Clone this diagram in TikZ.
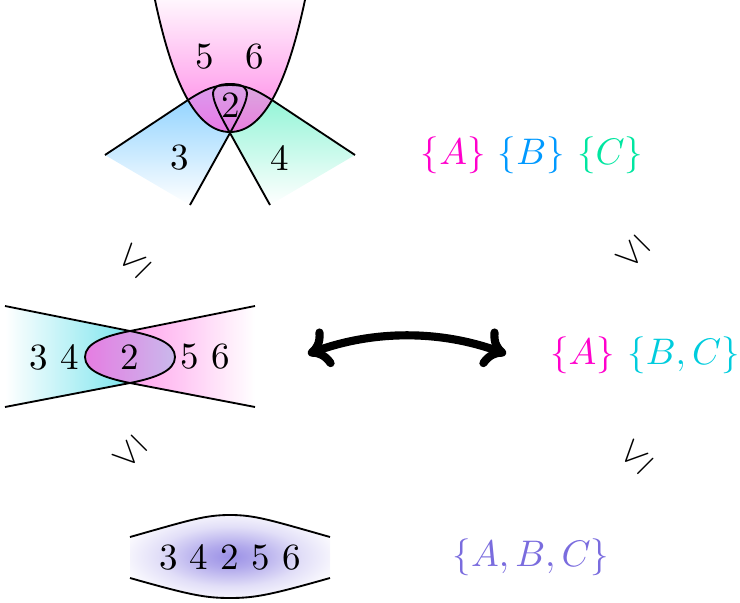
\documentclass[tikz,border=0pt]{standalone}
\usetikzlibrary{arrows.meta}
\definecolor{ca}{RGB}{255,0,204}
\definecolor{cb}{RGB}{0,153,255}
\definecolor{cc}{RGB}{0,230,160}
\definecolor{cbc}{RGB}{0,204,221}
\definecolor{cabc}{RGB}{122,108,222}
\pgfdeclareradialshading{abcrad}{\pgfpoint{0bp}{0bp}}{color(0bp)=(cabc!75); color(7bp)=(cabc!58); color(18bp)=(cabc!22); color(29bp)=(white); color(50bp)=(white)}
\begin{document}
\begin{tikzpicture}[x=0.27027pt,y=-0.27027pt,
  edge/.style={line width=0.5pt},
  num/.style={inner sep=0pt},
  rel/.style={inner sep=0pt},
  settext/.style={inner sep=0pt},
  bigarrow/.style={line width=2.2pt, line cap=round,
    {To[length=6pt,width=11pt,round]}-{To[length=6pt,width=11pt,round]}}]
\useasboundingbox (0,0) rectangle (740,603);

% ---------- top diagram ----------
\shade[top color=cb!48, bottom color=white]
  (105,155) -- (188,100) .. controls (205,89) and (215,84) .. (230,84)
  .. controls (255,84) and (250,97) .. (230,133) -- (190,205) -- cycle;
\shade[top color=cc!48, bottom color=white]
  (355,155) -- (272,100) .. controls (255,89) and (245,84) .. (230,84)
  .. controls (205,84) and (210,97) .. (230,133) -- (270,205) -- cycle;
\fill[cb!45, opacity=0.5]
  (230,84) .. controls (255,84) and (250,97) .. (230,133)
  .. controls (210,97) and (205,84) .. (230,84) -- cycle;
\shade[top color=ca!5, bottom color=ca!70, opacity=0.7]
  (155,0) .. controls (172,80) and (195,132) .. (230,132)
  .. controls (265,132) and (288,80) .. (305,0) -- cycle;

\draw[edge] (155,0) .. controls (172,80) and (195,132) .. (230,132)
  .. controls (265,132) and (288,80) .. (305,0);
\draw[edge] (105,155) -- (188,100) .. controls (205,89) and (215,85) .. (230,85)
  .. controls (245,85) and (255,89) .. (272,100) -- (355,155);
\draw[edge] (190,205) -- (230,133) .. controls (250,97) and (255,84) .. (230,84)
  .. controls (205,84) and (210,97) .. (230,133) -- (270,205);

\node[num] (n5) at (205,57) {5};
\node[num] (n6) at (255,57) {6};
\node[num] (n3) at (180,158) {3};
\node[num] (n4) at (280,158) {4};
\node[num] (n2) at (231,105) {2};

% ---------- middle diagram ----------
\shade[left color=white, right color=cbc!70]
  (5,306) -- (130,331) .. controls (155,336) and (175,343) .. (175,357)
  .. controls (175,371) and (155,378) .. (130,383) -- (5,407) -- cycle;
\shade[left color=ca!70, right color=white, opacity=0.7]
  (255,306) -- (130,331) .. controls (105,336) and (85,343) .. (85,357)
  .. controls (85,371) and (105,378) .. (130,383) -- (255,407) -- cycle;
\draw[edge] (5,306) -- (130,331) .. controls (155,336) and (175,343) .. (175,357)
  .. controls (175,371) and (155,378) .. (130,383) -- (5,407);
\draw[edge] (255,306) -- (130,331) .. controls (105,336) and (85,343) .. (85,357)
  .. controls (85,371) and (105,378) .. (130,383) -- (255,407);

\node[num] (n34) at (54,357) {3 4};
\node[num] (n2m) at (130,357) {2};
\node[num] (n56) at (205,357) {5 6};

% ---------- bottom diagram ----------
\shade[shading=abcrad]
  (130,537) .. controls (190,520) and (205,515) .. (230,515)
  .. controls (255,515) and (270,520) .. (330,537) -- (330,578)
  .. controls (270,595) and (255,598) .. (230,598)
  .. controls (205,598) and (190,595) .. (130,578) -- cycle;
\draw[edge] (130,537) .. controls (190,520) and (205,515) .. (230,515)
  .. controls (255,515) and (270,520) .. (330,537);
\draw[edge] (130,578) .. controls (190,595) and (205,598) .. (230,598)
  .. controls (255,598) and (270,595) .. (330,578);
\node[num] (nall) at (230,557) {3 4 2 5 6};

% ---------- set texts ----------
\node[settext] (t1) at (532,155) {\textcolor{ca}{$\{A\}$} \textcolor{cb}{$\{B\}$} \textcolor{cc}{$\{C\}$}};
\node[settext] (t2) at (645,355) {\textcolor{ca}{$\{A\}$} \textcolor{cbc}{$\{B,C\}$}};
\node[settext] (t3) at (531,557) {\textcolor{cabc}{$\{A,B,C\}$}};

% ---------- relation symbols ----------
\node[rel, rotate=45] (le1) at (134,261) {$\leq$};
\node[rel, rotate=135] (le2) at (633,253) {$\leq$};
\node[rel, rotate=135] (le3) at (130,453) {$\leq$};
\node[rel, rotate=45] (le4) at (636,457) {$\leq$};

% ---------- double arrow ----------
\coordinate (arL) at (308,354);
\coordinate (arR) at (506,354);
\draw[bigarrow] (arL) .. controls (374,330) and (440,330) .. (arR);
\end{tikzpicture}
\end{document}
